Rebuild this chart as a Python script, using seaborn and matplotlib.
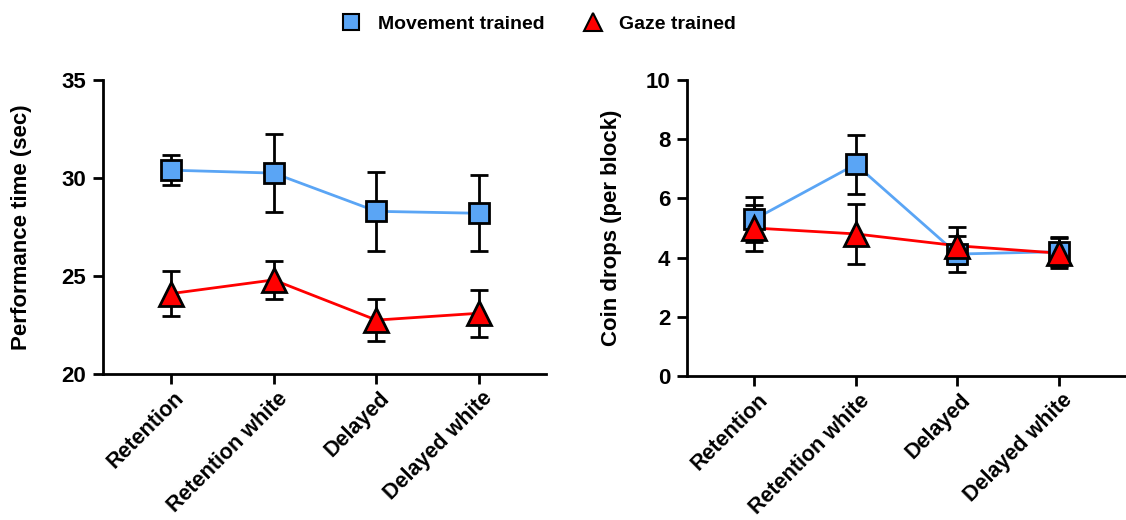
import numpy as np
import pandas as pd
import matplotlib
matplotlib.use("Agg")
import matplotlib.pyplot as plt
from matplotlib.lines import Line2D
import matplotlib.transforms as mtransforms
import seaborn as sns

conditions = ["Retention", "Retention white", "Delayed", "Delayed white"]
groups = ["Movement trained", "Gaze trained"]

perf_movement = [30.4, 30.25, 28.3, 28.2]
perf_movement_err = [0.77, 2.0, 2.0, 1.93]
perf_gaze = [24.1, 24.8, 22.75, 23.1]
perf_gaze_err = [1.15, 0.96, 1.08, 1.2]

coin_movement = [5.29, 7.15, 4.12, 4.2]
coin_movement_err = [0.75, 1.0, 0.62, 0.5]
coin_gaze = [5.0, 4.8, 4.4, 4.15]
coin_gaze_err = [0.77, 1.0, 0.63, 0.5]

colors = {"Movement trained": "#5aa5f5", "Gaze trained": "#ff0000"}
markers = {"Movement trained": "s", "Gaze trained": "^"}

sns.set_theme(style="ticks")
plt.rcParams["font.family"] = ["Liberation Sans", "DejaVu Sans"]
plt.rcParams["text.color"] = "black"
plt.rcParams["axes.labelcolor"] = "black"
plt.rcParams["xtick.color"] = "black"
plt.rcParams["ytick.color"] = "black"

fig = plt.figure(figsize=(11.26, 5.2), dpi=100)
axL = fig.add_axes([103/1126, 1-374/520, (546-103)/1126, (374-80)/520])
axR = fig.add_axes([687/1126, 1-376/520, (1125-687)/1126, (376-80)/520])


def draw(ax, mv, mve, gz, gze, ylim, yticks, ylabel, labelpad):
    df = pd.DataFrame({
        "cond": conditions * 2,
        "val": list(mv) + list(gz),
        "err": list(mve) + list(gze),
        "group": [groups[0]] * 4 + [groups[1]] * 4,
    })
    for g in groups:
        sub = df[df.group == g]
        sns.lineplot(data=sub, x="cond", y="val", color=colors[g], lw=2.0,
                     ax=ax, zorder=2, sort=False, legend=False)
        ax.errorbar(sub["cond"], sub["val"], yerr=sub["err"], fmt="none",
                    ecolor="black", elinewidth=2.0, capsize=6.5, capthick=2.0,
                    zorder=3)
        ax.plot(sub["cond"], sub["val"], linestyle="none", marker=markers[g],
                markersize=14 if g == groups[0] else 17,
                markerfacecolor=colors[g], markeredgecolor="black",
                markeredgewidth=2.0, zorder=4)
    ax.set_xlim(-0.66, 3.65)
    ax.set_ylim(*ylim)
    ax.set_yticks(yticks)
    ax.set_xlabel("")
    ax.set_ylabel(ylabel, fontsize=16, fontweight="bold", labelpad=labelpad)
    for s in ["top", "right"]:
        ax.spines[s].set_visible(False)
    for s in ["left", "bottom"]:
        ax.spines[s].set_linewidth(2.0)
        ax.spines[s].set_color("black")
    ax.tick_params(axis="both", width=2.0, length=7, color="black",
                   labelsize=16)
    ax.tick_params(axis="y", pad=5)
    ax.tick_params(axis="x", pad=3)
    for t in ax.get_yticklabels():
        t.set_fontweight("bold")
    ax.set_xticks(range(len(conditions)))
    ax.set_xticklabels(conditions, rotation=45, ha="right", va="top",
                       rotation_mode="anchor", fontsize=15.5, fontweight="bold")
    off = mtransforms.ScaledTranslation(3/100, 0, fig.dpi_scale_trans)
    for t in ax.get_xticklabels():
        t.set_transform(t.get_transform() + off)


draw(axL, perf_movement, perf_movement_err, perf_gaze, perf_gaze_err,
     (20, 35), [20, 25, 30, 35], "Performance time (sec)", 21)
draw(axR, coin_movement, coin_movement_err, coin_gaze, coin_gaze_err,
     (0, 10), [0, 2, 4, 6, 8, 10], "Coin drops (per block)", 17)

handles = [Line2D([], [], linestyle="none", marker=markers[g],
                  markersize=11 if g == groups[0] else 13,
                  markerfacecolor=colors[g], markeredgecolor="black",
                  markeredgewidth=1.5, label=g) for g in groups]
fig.legend(handles=handles, loc="upper center", bbox_to_anchor=(0.478, 1.005),
           ncol=2, frameon=False, columnspacing=1.95, handlelength=1.1,
           handletextpad=0.8, prop={"weight": "bold", "size": 14})

fig.savefig("out.png", dpi=100)
